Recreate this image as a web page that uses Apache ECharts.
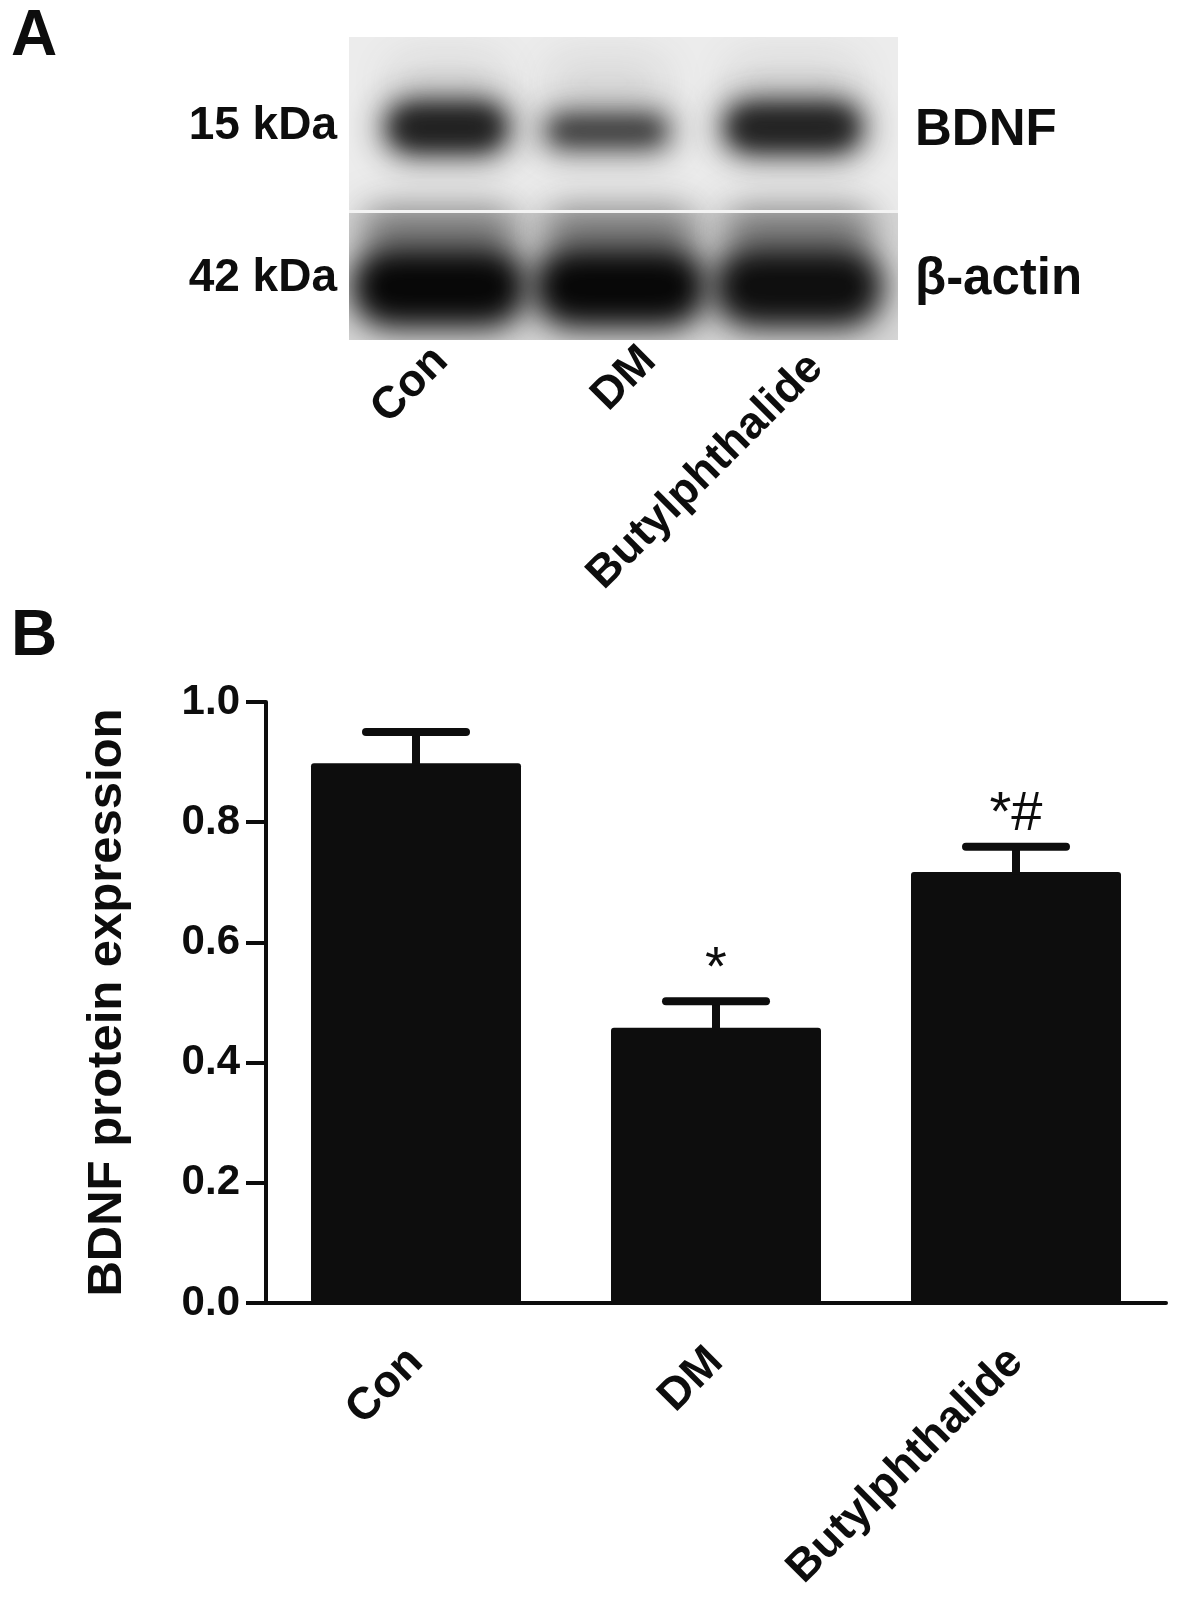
<!DOCTYPE html>
<html>
<head>
<meta charset="utf-8">
<script src="https://cdn.jsdelivr.net/npm/echarts@6/dist/echarts.min.js"></script>
<style>
  html, body { margin: 0; padding: 0; background: #fff; }
  #chart { width: 1181px; height: 1601px; }
</style>
</head>
<body>
<div id="chart"></div>
<script>
// panel B data
const groups = ['Con', 'DM', 'Butylphthalide'];
const meanValues = [0.898, 0.458, 0.717];
const semValues = [0.052, 0.044, 0.042];
const marks = ['', '*', '*#'];

// panel A (blot) band density, 0..1
const bdnfDensity = [0.92, 0.72, 0.9];
const actinDensity = [1, 1, 0.97];
const markerLabels = ['15 kDa', '42 kDa'];
const proteinLabels = ['BDNF', 'β-actin'];

const FONT = 'Liberation Sans, Arial, Helvetica, sans-serif';
const INK = '#0d0d0d';
const OFF = 3000;

// blurred blob: shape is drawn off canvas, only its shadow lands on the blot
function blob(x1, y1, x2, y2, color, blur) {
  return {
    type: 'rect', z: 1,
    shape: { x: x1 - OFF, y: y1, width: x2 - x1, height: y2 - y1, r: Math.min(x2 - x1, y2 - y1) / 2 },
    style: { fill: '#000', shadowColor: color, shadowBlur: blur, shadowOffsetX: OFF },
    silent: true
  };
}

function grey(v, a) {
  return 'rgba(' + v + ',' + v + ',' + v + ',' + a + ')';
}

function whiteRect(x, y, w, h, fill) {
  return { type: 'rect', z: 2, shape: { x: x, y: y, width: w, height: h }, style: { fill: fill || '#fff' }, silent: true };
}

function blotGraphics() {
  const left = 349, right = 898, top = 37, mid = 211, bottom = 340;
  const topLanes = [[382, 512], [540, 674], [720, 866]];
  const lowLanes = [[350, 528], [532, 708], [712, 884]];
  const els = [];
  els.push({ type: 'rect', z: 0, shape: { x: left, y: top, width: right - left, height: mid - top }, style: { fill: '#ececec' }, silent: true });
  els.push({ type: 'rect', z: 0, shape: { x: left, y: mid, width: right - left, height: bottom - mid }, style: { fill: '#d6d6d6' }, silent: true });
  // faint smear above the BDNF bands
  topLanes.forEach((l) => els.push(blob(l[0] + 5, 55, l[1] - 5, 110, grey(90, 0.12), 40)));
  // BDNF: soft halo plus a denser core
  bdnfDensity.forEach((d, i) => {
    const l = topLanes[i];
    const y1 = i === 1 ? 110 : 99;
    const y2 = i === 1 ? 152 : 156;
    els.push(blob(l[0], y1, l[1], y2, grey(30, d), 32));
    els.push(blob(l[0] + 12, y1 + 10, l[1] - 12, y2 - 10, grey(20, d * 0.7), 20));
  });
  // gray smear at the top of the lower panel
  lowLanes.forEach((l) => els.push(blob(l[0] + 10, 205, l[1] - 10, 255, grey(60, 0.55), 34)));
  // beta-actin
  actinDensity.forEach((d, i) => {
    const l = lowLanes[i];
    els.push(blob(l[0], 246, l[1], 328, grey(8, d), 30));
  });
  // trim everything to the blot box
  els.push(whiteRect(0, 0, left, 600));
  els.push(whiteRect(right, 0, 1181 - right, 600));
  els.push(whiteRect(0, 0, 1181, top));
  els.push(whiteRect(0, bottom, 1181, 260));
  els.push(whiteRect(left, mid - 1, right - left, 3, '#f3f3f3'));
  return els;
}

function label(text, x, y, size, align, extra) {
  return Object.assign({
    type: 'text', z: 3, x: x, y: y,
    style: {
      text: text, fontFamily: FONT, fontSize: size, fontWeight: 'bold', fill: INK,
      align: align || 'left', verticalAlign: 'middle'
    },
    silent: true
  }, extra || {});
}

const graphics = blotGraphics();
graphics.push(label('A', 11, 37, 64));
graphics.push(label('B', 11, 637, 64));
graphics.push(label(markerLabels[0], 337, 126, 46, 'right'));
graphics.push(label(markerLabels[1], 337, 278, 46, 'right'));
graphics.push(label(proteinLabels[0], 915, 131, 51));
graphics.push(label(proteinLabels[1], 915, 280, 51));
// rotated lane labels under the blot
const laneLabelPos = [[441, 354], [649, 354], [816, 361]];
groups.forEach((g, i) => {
  graphics.push(label(g, laneLabelPos[i][0], laneLabelPos[i][1], 45, 'right', { rotation: Math.PI / 4 }));
});

const chart = echarts.init(document.getElementById('chart'));
chart.setOption({
  animation: false,
  backgroundColor: '#fff',
  graphic: graphics,
  grid: { left: 266, right: 15, top: 702, bottom: 298 },
  xAxis: {
    type: 'category',
    data: groups,
    axisLine: { lineStyle: { color: INK, width: 4 } },
    axisTick: { alignWithLabel: true, length: 19, lineStyle: { color: INK, width: 4 } },
    axisLabel: {
      rotate: 45, margin: 52, color: INK, fontFamily: FONT, fontSize: 45, fontWeight: 'bold'
    }
  },
  yAxis: {
    type: 'value',
    min: 0, max: 1, interval: 0.2,
    name: 'BDNF protein expression',
    nameLocation: 'middle',
    nameGap: 134,
    nameTextStyle: { color: INK, fontFamily: FONT, fontSize: 49, fontWeight: 'bold' },
    axisLine: { show: true, lineStyle: { color: INK, width: 4 } },
    axisTick: { show: true, length: 20, lineStyle: { color: INK, width: 4 } },
    axisLabel: {
      margin: 26, color: INK, fontFamily: FONT, fontSize: 42, fontWeight: 'bold',
      formatter: (v) => v.toFixed(1)
    },
    splitLine: { show: false }
  },
  series: [
    {
      type: 'bar',
      data: meanValues,
      barWidth: '70%',
      itemStyle: { color: INK, borderRadius: 3 },
      z: 2
    },
    {
      type: 'custom',
      data: groups.map((g, i) => [i, meanValues[i], meanValues[i] + semValues[i]]),
      z: 3,
      renderItem: function (params, api) {
        const top = api.coord([api.value(0), api.value(1)]);
        const cap = api.coord([api.value(0), api.value(2)]);
        const x = top[0];
        const half = 50;
        return {
          type: 'group',
          children: [
            { type: 'line', shape: { x1: x, y1: top[1] + 2, x2: x, y2: cap[1] }, style: { stroke: INK, lineWidth: 8 } },
            { type: 'line', shape: { x1: x - half, y1: cap[1], x2: x + half, y2: cap[1] }, style: { stroke: INK, lineWidth: 8, lineCap: 'round' } },
            {
              type: 'text', x: x, y: cap[1] - 32,
              style: { text: marks[params.dataIndex], fontFamily: FONT, fontSize: 56, fill: INK, align: 'center', verticalAlign: 'middle' }
            }
          ]
        };
      }
    }
  ]
});
</script>
</body>
</html>
